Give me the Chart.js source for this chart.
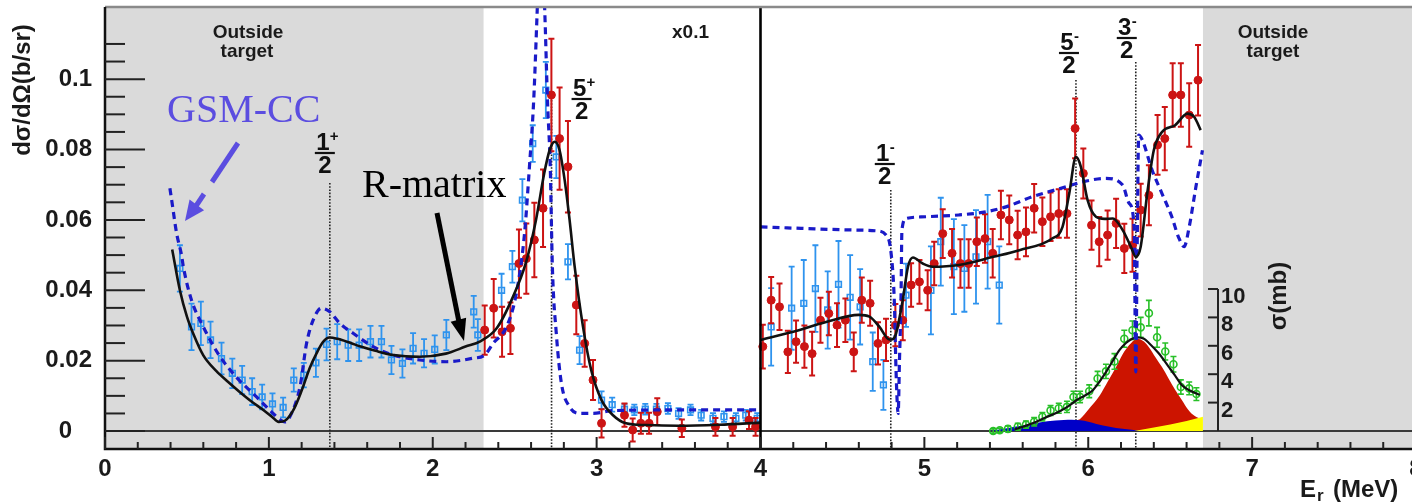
<!DOCTYPE html>
<html><head><meta charset="utf-8">
<script src="https://cdn.jsdelivr.net/npm/chart.js@4.4.0/dist/chart.umd.min.js"></script>
<style>html,body{margin:0;padding:0;background:#fff;overflow:hidden;width:1412px;height:502px}
#wrap{position:relative;width:1440px;height:502px}</style>
</head><body><div id="wrap"><canvas id="c" width="1440" height="502"></canvas></div>
<script>
// ---------- data ----------
const xTickValues = [0,1,2,3,4,5,6,7,8];
const xTickLabels = ['0','1','2','3','4','5','6','7','8'];
const yTickValues = [0,0.02,0.04,0.06,0.08,0.1];
const yTickLabels = ['0   ','0.02','0.04','0.06','0.08','0.1'];
const sigmaTickValues = [2,4,6,8,10];
const sigmaTickLabels = ['2','4','6','8','10'];
const outsideTargetE = [[0,2.31],[6.7,8]];
const resonanceE = [1.372, 2.725, 4.795, 5.925, 6.29];
const resonanceNum = ['1','5','1','5','3'];
const resonanceParity = ['+','+','-','-','-'];

// blue open squares
const blueE = [0.457,0.528,0.585,0.644,0.711,0.777,0.837,0.898,0.959,1.022,1.087,1.152,1.213,1.287,1.352,1.417,1.484,1.551,1.620,1.687,1.748,1.815,1.880,1.947,2.012,2.083,2.250,2.275,
 2.42,2.486,2.547,2.61,2.69,2.754,2.825,2.896,3.03,3.095,3.17,3.23,3.297,3.365,3.435,3.50,3.573,3.638,3.71,3.777,3.85,3.91,3.98,
 4.065,4.19,4.264,4.335,4.41,4.476,4.547,4.608,4.685,4.75,4.888,5.04,5.10,5.18,5.244,5.315,5.386,5.457];
const blueV = [0.0462,0.0296,0.0306,0.0259,0.0206,0.0164,0.0145,0.0112,0.0097,0.0077,0.0067,0.0145,0.0159,0.0194,0.0246,0.0254,0.0244,0.0244,0.0254,0.0254,0.0202,0.0192,0.0235,0.0221,0.0232,0.0273,0.0339,0.0273,
 0.040,0.0467,0.0656,0.0817,0.0969,0.0779,0.0481,0.023,0.0088,0.0075,0.0062,0.006,0.0062,0.0062,0.0064,0.0050,0.0060,0.0045,0.0036,0.0041,0.0036,0.0045,0.0036,
 0.0296,0.0349,0.0363,0.0405,0.0344,0.0417,0.038,0.0353,0.0197,0.0131,0.0386,0.040,0.0538,0.0467,0.0462,0.0495,0.0538,0.0415];
const blueErr = [0.0066,0.0066,0.0062,0.0052,0.0045,0.0042,0.0040,0.0038,0.0035,0.0030,0.0028,0.0033,0.0035,0.0040,0.0045,0.0050,0.0045,0.0045,0.0045,0.0045,0.0040,0.0040,0.0043,0.0040,0.0040,0.0043,0.0045,0.0045,
 0.0047,0.0045,0.006,0.0052,0.008,0.006,0.005,0.004,0.0025,0.002,0.0015,0.0015,0.0015,0.0015,0.0015,0.0015,0.0015,0.0015,0.0015,0.0015,0.0015,0.0015,0.0015,
 0.011,0.0118,0.0123,0.0123,0.011,0.0123,0.012,0.0107,0.0083,0.0071,0.009,0.0125,0.0125,0.0135,0.0123,0.0133,0.0133,0.011];

// red filled circles
const redE = [2.317,2.372,2.423,2.474,2.526,2.571,2.62,2.673,2.724,2.774,2.825,2.876,2.927,2.978,3.03,3.17,3.22,3.27,3.32,3.37,3.52,3.725,3.83,3.93,3.97,
 4.014,4.065,4.116,4.167,4.217,4.268,4.315,4.366,4.417,4.467,4.518,4.569,4.618,4.669,4.717,4.766,4.823,4.868,4.919,4.97,5.02,5.06,5.112,5.169,5.22,5.27,5.32,5.37,5.417,5.467,5.518,5.569,5.62,5.67,5.72,5.77,5.82,5.87,
 5.92,5.97,6.02,6.067,6.118,6.17,6.22,6.27,6.32,6.37,6.423,6.467,6.515,6.565,6.616,6.67];
const redV = [0.0287,0.0349,0.0282,0.0292,0.0476,0.049,0.0543,0.0633,0.0955,0.0831,0.0751,0.0358,0.0249,0.0145,0.0022,0.0045,0.0003,0.0022,0.0022,0.0055,0.0008,0.0012,0.0012,0.0031,0.0012,
 0.024,0.0372,0.0353,0.0225,0.0254,0.024,0.022,0.0315,0.0334,0.0301,0.0315,0.0225,0.0372,0.0363,0.0249,0.0259,0.0301,0.0315,0.0415,0.0424,0.040,0.0476,0.0561,0.0505,0.0476,0.0476,0.0538,0.0547,0.0505,0.0614,0.060,0.0557,0.0566,0.0633,0.0595,0.0609,0.0618,0.0618,
 0.086,0.0732,0.0585,0.0538,0.0557,0.059,0.0519,0.0528,0.0628,0.067,0.0813,0.0831,0.0955,0.0955,0.0898,0.0997];
const redErr = [0.007,0.0083,0.0071,0.0073,0.0097,0.010,0.0106,0.011,0.016,0.0145,0.013,0.0083,0.0066,0.0057,0.004,0.0033,0.0033,0.003,0.003,0.0038,0.0025,0.0025,0.0025,0.0025,0.0025,
 0.0062,0.0066,0.0066,0.006,0.006,0.006,0.0062,0.0064,0.0062,0.0062,0.0062,0.0055,0.0064,0.0064,0.006,0.006,0.006,0.0057,0.0062,0.0062,0.0057,0.0062,0.0069,0.0069,0.0069,0.0069,0.0069,0.0069,0.0069,0.0069,0.0069,0.0069,0.0069,0.0069,0.0069,0.0069,0.0069,0.0069,
 0.0085,0.0071,0.007,0.007,0.007,0.007,0.007,0.0075,0.0075,0.0085,0.0085,0.009,0.009,0.009,0.009,0.010];

// R-matrix curve (dσ/dΩ)
const rmatLowE = [0.41,0.457,0.50,0.54,0.60,0.68,0.75,0.82,0.90,0.96,1.02,1.06,1.10,1.15,1.20,1.25,1.29,1.33,1.37,1.42,1.50,1.56,1.65,1.76,1.92,2.08,2.20,2.29,2.39,2.49,2.57,2.63,2.68,2.713,2.744,2.774,2.805,2.835,2.866,2.917,2.967,3.03,3.10,3.18,3.30,3.50,3.75,4.0];
const rmatLowV = [0.0516,0.040,0.0325,0.0275,0.0215,0.0170,0.0140,0.0112,0.0082,0.0062,0.0040,0.0026,0.0030,0.0060,0.0115,0.0180,0.0220,0.0253,0.0266,0.0262,0.0250,0.0240,0.0228,0.0216,0.0211,0.0220,0.0240,0.0255,0.0292,0.0382,0.0481,0.0600,0.0732,0.0798,0.0822,0.0798,0.0713,0.0600,0.0467,0.0296,0.0173,0.0088,0.0045,0.0022,0.0017,0.0015,0.0018,0.0024];
const rmatHighE = [4.0,4.2,4.4,4.6,4.665,4.726,4.787,4.81,4.827,4.868,4.90,4.93,4.99,5.05,5.21,5.42,5.58,5.78,5.843,5.884,5.925,5.955,5.996,6.047,6.10,6.15,6.21,6.26,6.29,6.32,6.36,6.40,6.45,6.53,6.605,6.646,6.686];
const rmatHighV = [0.0259,0.0282,0.031,0.033,0.0325,0.0296,0.026,0.0262,0.0277,0.0372,0.0467,0.0493,0.0476,0.0467,0.0472,0.0495,0.0514,0.0547,0.058,0.0675,0.0779,0.0751,0.0656,0.0609,0.0603,0.0604,0.0571,0.0524,0.0495,0.0524,0.0675,0.0798,0.085,0.0869,0.0902,0.0893,0.0855];

// GSM-CC curve
const gsmLowE = [0.396,0.407,0.437,0.467,0.478,0.528,0.60,0.69,0.80,0.925,1.026,1.07,1.098,1.138,1.19,1.23,1.27,1.32,1.372,1.433,1.514,1.636,1.758,1.92,2.083,2.246,2.317,2.368,2.45,2.51,2.56,2.59,2.616,2.636,2.65,2.668,2.683,2.70,2.717,2.73,2.754,2.785,2.835,2.896,2.978,3.10,3.51,4.0];
const gsmLowV = [0.069,0.0656,0.0562,0.050,0.0467,0.0372,0.0296,0.022,0.0154,0.0097,0.005,0.0032,0.0026,0.005,0.0126,0.0249,0.0315,0.0349,0.0339,0.0306,0.0278,0.024,0.0216,0.0202,0.0197,0.0207,0.0216,0.0249,0.0296,0.0391,0.0561,0.0751,0.094,0.1177,0.135,0.135,0.12,0.094,0.0751,0.0467,0.0277,0.0136,0.0069,0.005,0.005,0.0058,0.006,0.006];
const gsmHighE = [4.0,4.60,4.705,4.766,4.797,4.817,4.827,4.84,4.848,4.857,4.863,4.888,5.01,5.21,5.376,5.498,5.66,5.864,5.965,6.108,6.21,6.25,6.28,6.29,6.298,6.308,6.33,6.39,6.45,6.51,6.55,6.585,6.616,6.657,6.697];
const gsmHighV = [0.058,0.0571,0.0569,0.0557,0.0505,0.0363,0.0173,0.005,0.02,0.0363,0.0571,0.0604,0.0609,0.0614,0.0623,0.0637,0.0666,0.0694,0.0708,0.0718,0.0699,0.0647,0.058,0.0168,0.05,0.0841,0.0827,0.0741,0.0675,0.0609,0.0552,0.0524,0.058,0.0694,0.0798];

// σ (mb) inset: green data, fit, components
const greenE = [5.42,5.46,5.51,5.57,5.62,5.67,5.72,5.77,5.82,5.87,5.91,5.95,6.006,6.057,6.108,6.16,6.22,6.27,6.32,6.37,6.42,6.47,6.52,6.565,6.616,6.66];
const greenSigma = [0.0,0.05,0.15,0.3,0.45,0.65,1.0,1.45,1.6,1.7,2.4,2.4,2.8,3.7,4.2,4.9,6.5,7.1,7.3,8.3,6.6,5.6,4.7,3.1,3.0,2.6];
const greenErr = [0.15,0.15,0.2,0.25,0.25,0.3,0.3,0.35,0.35,0.4,0.4,0.4,0.45,0.5,0.5,0.55,0.6,0.65,0.7,0.9,0.7,0.6,0.55,0.5,0.45,0.45];
const sigmaFitE = [5.55,5.60,5.66,5.74,5.82,5.88,5.93,5.98,6.03,6.07,6.11,6.15,6.19,6.23,6.26,6.30,6.34,6.37,6.43,6.49,6.53,6.57,6.62,6.68];
const sigmaFitV = [0.1,0.3,0.54,0.95,1.36,1.75,2.18,2.5,2.89,3.5,4.18,4.95,5.7,6.2,6.45,6.6,6.5,6.2,5.47,4.53,3.9,3.24,2.85,2.54];
const redAreaE = [5.93,5.95,6.00,6.07,6.12,6.17,6.21,6.25,6.30,6.34,6.37,6.41,6.45,6.49,6.53,6.57,6.61,6.65,6.69];
const redAreaV = [0.75,0.85,1.5,2.5,3.5,4.5,5.4,6.05,6.5,6.3,5.9,5.2,4.5,3.7,2.9,2.2,1.5,1.05,0.85];
const blueAreaE = [5.40,5.457,5.55,5.65,5.75,5.85,5.90,5.95,6.00,6.05,6.13,6.21,6.29,6.32];
const blueAreaV = [0.0,0.1,0.3,0.5,0.68,0.78,0.8,0.75,0.65,0.5,0.3,0.15,0.05,0.0];
const yellowAreaE = [6.28,6.40,6.50,6.60,6.70];
const yellowAreaV = [0.0,0.25,0.45,0.7,1.0];

// ---------- helpers ----------
const pts = (xs, ys) => xs.map((x,i)=>({x:x, y:ys[i]}));
const FONT = "'Liberation Sans', Arial, Helvetica, sans-serif";
const SERIF = "'Liberation Serif', 'Times New Roman', serif";

const errBars = {
  id:'errBars',
  beforeDatasetDraw(chart, args){
    const ds = chart.data.datasets[args.index];
    if(!ds.errorBars) return;
    const xs = chart.scales.x, ysc = chart.scales[ds.yAxisID || 'y'];
    const ctx = chart.ctx, a = chart.chartArea;
    ctx.save();
    ctx.beginPath(); ctx.rect(a.left, a.top, a.right-a.left, a.bottom-a.top); ctx.clip();
    ctx.strokeStyle = ds.borderColor; ctx.lineWidth = ds.errWidth || 1.6;
    ds.data.forEach((p,i)=>{
      const e = ds.errorBars[i];
      const px = xs.getPixelForValue(p.x);
      const y1 = ysc.getPixelForValue(p.y - e), y2 = ysc.getPixelForValue(p.y + e);
      ctx.beginPath();
      ctx.moveTo(px,y1); ctx.lineTo(px,y2);
      ctx.moveTo(px-3,y1); ctx.lineTo(px+3,y1);
      ctx.moveTo(px-3,y2); ctx.lineTo(px+3,y2);
      ctx.stroke();
    });
    ctx.restore();
  }
};

function arrow(ctx, x1,y1,x2,y2, tipX,tipY, color, w, hl, hw){
  ctx.save();
  ctx.strokeStyle = color; ctx.fillStyle = color; ctx.lineWidth = w; ctx.lineCap='butt';
  ctx.beginPath(); ctx.moveTo(x1,y1); ctx.lineTo(x2,y2); ctx.stroke();
  if(hl > 0){
    const dx = tipX - x2, dy = tipY - y2, L = Math.hypot(dx,dy);
    const ux = dx/L, uy = dy/L;
    const bx = tipX - ux*hl, by = tipY - uy*hl;
    ctx.beginPath(); ctx.moveTo(tipX,tipY);
    ctx.lineTo(bx - uy*hw, by + ux*hw); ctx.lineTo(bx + uy*hw, by - ux*hw); ctx.closePath(); ctx.fill();
  }
  ctx.restore();
}

const rootStyle = {
  id:'rootStyle',
  beforeDraw(chart){
    const ctx = chart.ctx, a = chart.chartArea, xs = chart.scales.x;
    ctx.save();
    ctx.fillStyle = '#fff'; ctx.fillRect(0,0,chart.width,chart.height);
    ctx.fillStyle = '#dadada';
    outsideTargetE.forEach(r=>{
      const l = xs.getPixelForValue(r[0]), rr = xs.getPixelForValue(r[1]);
      ctx.fillRect(l, a.top, rr-l, a.bottom-a.top);
    });
    ctx.restore();
  },
  beforeDatasetsDraw(chart){
    const ctx = chart.ctx, a = chart.chartArea, xs = chart.scales.x, ys = chart.scales.y;
    ctx.save();
    const y0 = ys.getPixelForValue(0);
    ctx.strokeStyle = '#3a3a3a'; ctx.lineWidth = 2;
    ctx.beginPath(); ctx.moveTo(a.left, y0); ctx.lineTo(a.right, y0); ctx.stroke();
    const lineTops = [183, 100, 190, 80, 62];
    ctx.strokeStyle = '#222'; ctx.lineWidth = 1.6; ctx.setLineDash([1.6,1.6]);
    resonanceE.forEach((e,i)=>{
      const px = xs.getPixelForValue(e);
      ctx.beginPath(); ctx.moveTo(px, lineTops[i]); ctx.lineTo(px, a.bottom); ctx.stroke();
    });
    ctx.restore();
  },
  afterDatasetsDraw(chart){
    const ctx = chart.ctx, a = chart.chartArea, xs = chart.scales.x, ys = chart.scales.y, ss = chart.scales.ys;
    ctx.save();
    const x4 = xs.getPixelForValue(4);
    ctx.strokeStyle = '#000'; ctx.lineWidth = 2.6;
    ctx.beginPath(); ctx.moveTo(x4, a.top); ctx.lineTo(x4, a.bottom); ctx.stroke();
    // frame
    ctx.strokeStyle = '#8a8a8a'; ctx.lineWidth = 2.5;
    ctx.beginPath(); ctx.moveTo(a.left, a.top); ctx.lineTo(a.right, a.top); ctx.stroke();
    ctx.strokeStyle = '#111'; ctx.lineWidth = 2.5;
    ctx.beginPath(); ctx.moveTo(a.left, a.top); ctx.lineTo(a.left, a.bottom); ctx.lineTo(a.right, a.bottom); ctx.stroke();
    // y ticks (inside)
    ctx.lineWidth = 2; ctx.strokeStyle = '#222';
    for(let k=0;k<=22;k++){
      const v = k*0.005, py = ys.getPixelForValue(v);
      const major = (k%4===0);
      ctx.beginPath(); ctx.moveTo(a.left, py); ctx.lineTo(a.left + (major?40:20), py); ctx.stroke();
    }
    // x ticks (inside)
    for(let k=0;k<=40;k++){
      const v = k*0.2, px = xs.getPixelForValue(v);
      const major = (k%5===0);
      ctx.beginPath(); ctx.moveTo(px, a.bottom); ctx.lineTo(px, a.bottom - (major?12:7)); ctx.stroke();
    }
    // sigma axis
    const sx = 1218;
    ctx.strokeStyle = '#222'; ctx.lineWidth = 2;
    ctx.beginPath(); ctx.moveTo(sx, ss.getPixelForValue(0)); ctx.lineTo(sx, ss.getPixelForValue(10)); ctx.stroke();
    ctx.fillStyle = '#1a1a1a'; ctx.font = 'bold 22px ' + FONT; ctx.textAlign='left'; ctx.textBaseline='top';
    sigmaTickValues.forEach((v,i)=>{
      const py = ss.getPixelForValue(v);
      ctx.beginPath(); ctx.moveTo(sx-10, py); ctx.lineTo(sx, py); ctx.stroke();
      ctx.fillText(sigmaTickLabels[i], sx+3, py-3);
    });
    ctx.save(); ctx.translate(1279, 296); ctx.rotate(-Math.PI/2);
    ctx.textAlign='center'; ctx.textBaseline='middle'; ctx.font = 'bold 24px ' + FONT;
    ctx.fillText('σ(mb)', 0, 0); ctx.restore();

    // resonance fraction labels
    const dxs = [-5, 30, -6, -7, -9], barYs = [153, 99, 164, 53, 38];
    ctx.fillStyle = '#111'; ctx.strokeStyle = '#111';
    resonanceE.forEach((e,i)=>{
      const cx = xs.getPixelForValue(e) + dxs[i], by = barYs[i];
      ctx.font = 'bold 24px ' + FONT; ctx.textAlign='center'; ctx.textBaseline='alphabetic';
      ctx.fillText(resonanceNum[i], cx-2, by-3);
      ctx.fillText('2', cx, by+20);
      ctx.lineWidth = 2.2; ctx.beginPath(); ctx.moveTo(cx-10, by); ctx.lineTo(cx+10, by); ctx.stroke();
      ctx.font = 'bold 15px ' + FONT; ctx.textAlign='left';
      ctx.fillText(resonanceParity[i], cx+5, by-12);
    });

    // region texts
    ctx.font = 'bold 19px ' + FONT; ctx.textAlign='center'; ctx.textBaseline='alphabetic'; ctx.fillStyle='#1a1a1a';
    ctx.fillText('Outside', 248, 38); ctx.fillText('target', 247, 57);
    ctx.fillText('Outside', 1273, 38); ctx.fillText('target', 1273, 57);
    ctx.textAlign='left'; ctx.fillText('x0.1', 672, 38);

    // annotations
    ctx.font = '40px ' + SERIF; ctx.textAlign='left'; ctx.fillStyle = '#5b4de0';
    ctx.fillText('GSM-CC', 167, 122);
    ctx.fillStyle = '#000'; ctx.fillText('R-matrix', 362, 197);
    arrow(ctx, 238,143, 212,182, 212,182, '#5b4de0', 5, 0, 0);
    arrow(ctx, 204,194, 196,206, 185,221, '#5b4de0', 5, 20, 9);
    arrow(ctx, 437,213, 459,322, 464,341, '#000', 5, 22, 8);

    // y title
    ctx.save(); ctx.translate(23, 90); ctx.rotate(-Math.PI/2);
    ctx.font = 'bold 24px ' + FONT; ctx.textAlign='center'; ctx.textBaseline='middle'; ctx.fillStyle='#1a1a1a';
    ctx.fillText('dσ/dΩ(b/sr)', 0, 0); ctx.restore();
    // x title
    ctx.font = 'bold 24px ' + FONT; ctx.textAlign='left'; ctx.textBaseline='alphabetic'; ctx.fillStyle='#1a1a1a';
    ctx.fillText('E', 1300, 497);
    ctx.font = 'bold 17px ' + FONT; ctx.fillText('r', 1317, 501);
    ctx.font = 'bold 24px ' + FONT; ctx.fillText('(MeV)', 1333, 497);
    ctx.restore();
  }
};

function noPad(s){ s.paddingTop = 0; s.paddingBottom = 0; s.paddingLeft = 0; s.paddingRight = 0; }

const ctx = document.getElementById('c').getContext('2d');
new Chart(ctx, {
  type:'scatter',
  data:{ datasets:[
    {label:'R-matrix low', data:pts(rmatLowE, rmatLowV), showLine:true, pointRadius:0, borderColor:'#111', borderWidth:2.6, cubicInterpolationMode:'monotone', order:1},
    {label:'R-matrix high', data:pts(rmatHighE, rmatHighV), showLine:true, pointRadius:0, borderColor:'#111', borderWidth:2.6, cubicInterpolationMode:'monotone', order:1},
    {label:'GSM-CC low', data:pts(gsmLowE, gsmLowV), showLine:true, pointRadius:0, borderColor:'#1a1ac8', borderWidth:3.2, borderDash:[7,5], cubicInterpolationMode:'monotone', order:2},
    {label:'GSM-CC high', data:pts(gsmHighE, gsmHighV), showLine:true, pointRadius:0, borderColor:'#1a1ac8', borderWidth:3.2, borderDash:[7,5], cubicInterpolationMode:'monotone', order:2},
    {label:'red data', data:pts(redE, redV), errorBars:redErr, errWidth:2, pointStyle:'circle', pointRadius:4, backgroundColor:'#cc1414', borderColor:'#cc1414', borderWidth:1, order:3},
    {label:'blue data', data:pts(blueE, blueV), errorBars:blueErr, errWidth:1.8, pointStyle:'rect', pointRadius:4, backgroundColor:'rgba(0,0,0,0)', borderColor:'#2e93ee', borderWidth:1.6, order:4},
    {label:'sigma fit', yAxisID:'ys', data:pts(sigmaFitE, sigmaFitV), showLine:true, pointRadius:0, borderColor:'#111', borderWidth:2.2, cubicInterpolationMode:'monotone', order:5},
    {label:'green data', yAxisID:'ys', data:pts(greenE, greenSigma), errorBars:greenErr, errWidth:1.6, pointStyle:'circle', pointRadius:3.5, backgroundColor:'rgba(0,0,0,0)', borderColor:'#28c028', borderWidth:1.6, order:6},
    {label:'yellow', yAxisID:'ys', data:pts(yellowAreaE, yellowAreaV), showLine:true, pointRadius:0, borderWidth:0, borderColor:'rgba(0,0,0,0)', backgroundColor:'#ffff00', fill:'origin', order:7},
    {label:'blue area', yAxisID:'ys', data:pts(blueAreaE, blueAreaV), showLine:true, pointRadius:0, borderWidth:0, borderColor:'rgba(0,0,0,0)', backgroundColor:'#0000c8', fill:'origin', cubicInterpolationMode:'monotone', order:8},
    {label:'red area', yAxisID:'ys', data:pts(redAreaE, redAreaV), showLine:true, pointRadius:0, borderWidth:0, borderColor:'rgba(0,0,0,0)', backgroundColor:'#cc1400', fill:'origin', cubicInterpolationMode:'monotone', order:9}
  ]},
  options:{
    responsive:false, animation:false, devicePixelRatio:1,
    layout:{padding:{left:0, right:24, top:7, bottom:0}},
    plugins:{legend:{display:false}, tooltip:{enabled:false}},
    scales:{
      x:{type:'linear', min:0, max:8,
        grid:{display:false, drawTicks:false}, border:{display:false},
        afterBuildTicks: s => { s.ticks = xTickValues.map(v=>({value:v})); },
        ticks:{callback:(v,i)=>xTickLabels[i], font:{family:FONT, weight:'bold', size:24}, color:'#1a1a1a', padding:6, maxRotation:0, autoSkip:false},
        afterFit: s => { s.height = 53; noPad(s); }},
      y:{type:'linear', min:-0.0051, max:0.1205,
        grid:{display:false, drawTicks:false}, border:{display:false},
        afterBuildTicks: s => { s.ticks = yTickValues.map(v=>({value:v})); },
        ticks:{callback:(v,i)=>yTickLabels[i], font:{family:FONT, weight:'bold', size:24}, color:'#1a1a1a', padding:13, autoSkip:false},
        afterFit: s => { s.width = 105; noPad(s); }},
      ys:{type:'linear', display:false, min:-1.268, max:29.86}
    }
  },
  plugins:[rootStyle, errBars]
});
</script></body></html>
